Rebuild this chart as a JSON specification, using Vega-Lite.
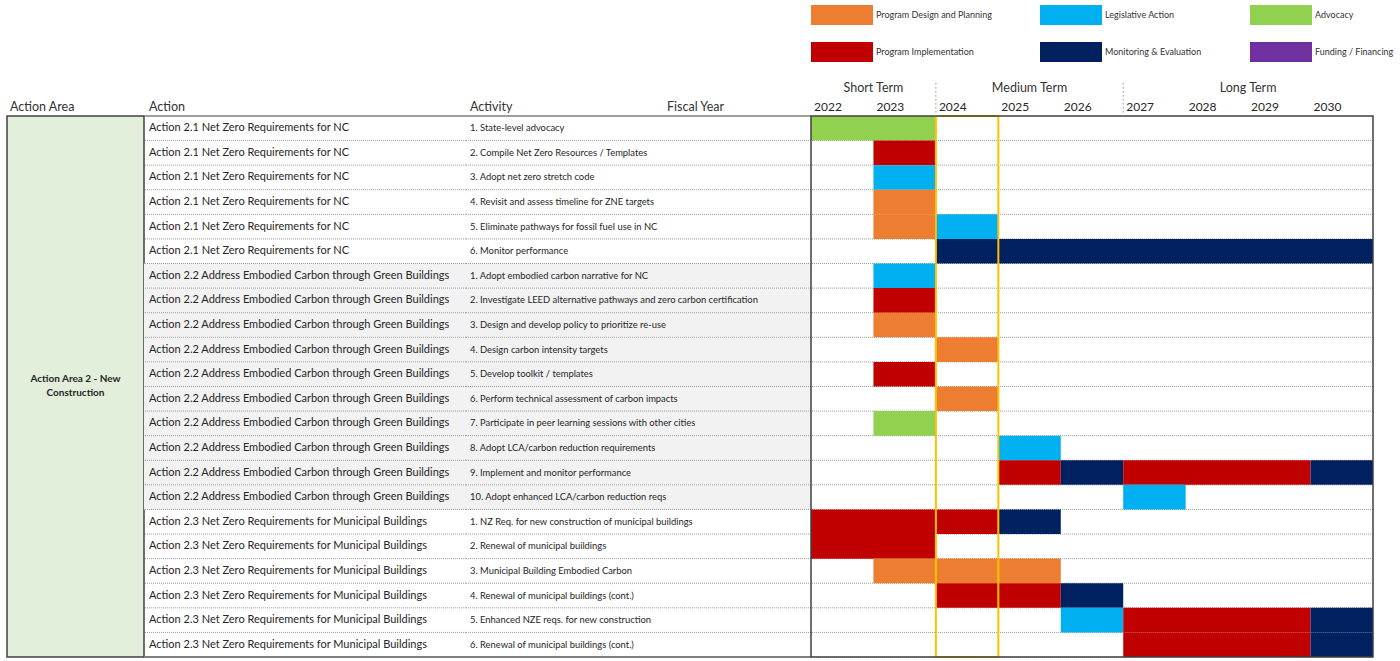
{
  "$schema": "https://vega.github.io/schema/vega-lite/v6.json",
  "padding": {"left": 6, "top": 0, "right": 0, "bottom": 0},
  "spacing": 0,
  "bounds": "flush",
  "config": {"view": {"stroke": null}, "font": "Lato", "text": {"font": "Lato"}},
  "datasets": {
    "rows": [
      {"row": 1, "action": "Action 2.1 Net Zero Requirements for NC", "activity": "1. State-level advocacy"},
      {"row": 2, "action": "Action 2.1 Net Zero Requirements for NC", "activity": "2. Compile Net Zero Resources / Templates"},
      {"row": 3, "action": "Action 2.1 Net Zero Requirements for NC", "activity": "3. Adopt net zero stretch code"},
      {"row": 4, "action": "Action 2.1 Net Zero Requirements for NC", "activity": "4. Revisit and assess timeline for ZNE targets"},
      {"row": 5, "action": "Action 2.1 Net Zero Requirements for NC", "activity": "5. Eliminate pathways for fossil fuel use in NC"},
      {"row": 6, "action": "Action 2.1 Net Zero Requirements for NC", "activity": "6. Monitor performance"},
      {"row": 7, "action": "Action 2.2 Address Embodied Carbon through Green Buildings", "activity": "1. Adopt embodied carbon narrative for NC"},
      {"row": 8, "action": "Action 2.2 Address Embodied Carbon through Green Buildings", "activity": "2. Investigate LEED alternative pathways and zero carbon certification"},
      {"row": 9, "action": "Action 2.2 Address Embodied Carbon through Green Buildings", "activity": "3. Design and develop policy to prioritize re-use"},
      {"row": 10, "action": "Action 2.2 Address Embodied Carbon through Green Buildings", "activity": "4. Design carbon intensity targets"},
      {"row": 11, "action": "Action 2.2 Address Embodied Carbon through Green Buildings", "activity": "5. Develop toolkit / templates"},
      {"row": 12, "action": "Action 2.2 Address Embodied Carbon through Green Buildings", "activity": "6. Perform technical assessment of carbon impacts"},
      {"row": 13, "action": "Action 2.2 Address Embodied Carbon through Green Buildings", "activity": "7. Participate in peer learning sessions with other cities"},
      {"row": 14, "action": "Action 2.2 Address Embodied Carbon through Green Buildings", "activity": "8. Adopt LCA/carbon reduction requirements"},
      {"row": 15, "action": "Action 2.2 Address Embodied Carbon through Green Buildings", "activity": "9. Implement and monitor performance"},
      {"row": 16, "action": "Action 2.2 Address Embodied Carbon through Green Buildings", "activity": "10. Adopt enhanced LCA/carbon reduction reqs"},
      {"row": 17, "action": "Action 2.3 Net Zero Requirements for Municipal Buildings", "activity": "1. NZ Req. for new construction of municipal buildings"},
      {"row": 18, "action": "Action 2.3 Net Zero Requirements for Municipal Buildings", "activity": "2. Renewal of municipal buildings"},
      {"row": 19, "action": "Action 2.3 Net Zero Requirements for Municipal Buildings", "activity": "3. Municipal Building Embodied Carbon"},
      {"row": 20, "action": "Action 2.3 Net Zero Requirements for Municipal Buildings", "activity": "4. Renewal of municipal buildings (cont.)"},
      {"row": 21, "action": "Action 2.3 Net Zero Requirements for Municipal Buildings", "activity": "5. Enhanced NZE reqs. for new construction"},
      {"row": 22, "action": "Action 2.3 Net Zero Requirements for Municipal Buildings", "activity": "6. Renewal of municipal buildings (cont.)"}
    ],
    "bars": [
      {"row": 1, "start": 2022, "end": 2024, "category": "Advocacy"},
      {"row": 2, "start": 2023, "end": 2024, "category": "Program Implementation"},
      {"row": 3, "start": 2023, "end": 2024, "category": "Legislative Action"},
      {"row": 4, "start": 2023, "end": 2024, "category": "Program Design and Planning"},
      {"row": 5, "start": 2023, "end": 2024, "category": "Program Design and Planning"},
      {"row": 5, "start": 2024, "end": 2025, "category": "Legislative Action"},
      {"row": 6, "start": 2024, "end": 2031, "category": "Monitoring & Evaluation"},
      {"row": 7, "start": 2023, "end": 2024, "category": "Legislative Action"},
      {"row": 8, "start": 2023, "end": 2024, "category": "Program Implementation"},
      {"row": 9, "start": 2023, "end": 2024, "category": "Program Design and Planning"},
      {"row": 10, "start": 2024, "end": 2025, "category": "Program Design and Planning"},
      {"row": 11, "start": 2023, "end": 2024, "category": "Program Implementation"},
      {"row": 12, "start": 2024, "end": 2025, "category": "Program Design and Planning"},
      {"row": 13, "start": 2023, "end": 2024, "category": "Advocacy"},
      {"row": 14, "start": 2025, "end": 2026, "category": "Legislative Action"},
      {"row": 15, "start": 2025, "end": 2026, "category": "Program Implementation"},
      {"row": 15, "start": 2026, "end": 2027, "category": "Monitoring & Evaluation"},
      {"row": 15, "start": 2027, "end": 2030, "category": "Program Implementation"},
      {"row": 15, "start": 2030, "end": 2031, "category": "Monitoring & Evaluation"},
      {"row": 16, "start": 2027, "end": 2028, "category": "Legislative Action"},
      {"row": 17, "start": 2022, "end": 2025, "category": "Program Implementation"},
      {"row": 17, "start": 2025, "end": 2026, "category": "Monitoring & Evaluation"},
      {"row": 18, "start": 2022, "end": 2024, "category": "Program Implementation"},
      {"row": 19, "start": 2023, "end": 2026, "category": "Program Design and Planning"},
      {"row": 20, "start": 2024, "end": 2026, "category": "Program Implementation"},
      {"row": 20, "start": 2026, "end": 2027, "category": "Monitoring & Evaluation"},
      {"row": 21, "start": 2026, "end": 2027, "category": "Legislative Action"},
      {"row": 21, "start": 2027, "end": 2030, "category": "Program Implementation"},
      {"row": 21, "start": 2030, "end": 2031, "category": "Monitoring & Evaluation"},
      {"row": 22, "start": 2027, "end": 2030, "category": "Program Implementation"},
      {"row": 22, "start": 2030, "end": 2031, "category": "Monitoring & Evaluation"}
    ],
    "years": [
      {"year": 2022}, {"year": 2023}, {"year": 2024}, {"year": 2025}, {"year": 2026},
      {"year": 2027}, {"year": 2028}, {"year": 2029}, {"year": 2030}
    ],
    "terms": [
      {"term": "Short Term", "mid": 2023, "start": 2022},
      {"term": "Medium Term", "mid": 2025.5, "start": 2024},
      {"term": "Long Term", "mid": 2029, "start": 2027}
    ]
  },
  "hconcat": [
    {
      "width": 137,
      "height": 657,
      "layer": [
        {
          "data": {"values": [{"area": ["Action Area 2 - New", "Construction"]}]},
          "mark": {"type": "rect", "fill": "#e2efda", "stroke": "#404040", "strokeWidth": 1.5},
          "encoding": {
            "x": {"value": 0}, "x2": {"value": "width"},
            "y": {"datum": 0.5, "type": "quantitative", "scale": {"domain": [-4.215, 22.5], "reverse": true, "nice": false, "zero": false}, "axis": null},
            "y2": {"datum": 22.5}
          }
        },
        {
          "data": {"values": [{"area": ["Action Area 2 - New", "Construction"]}]},
          "mark": {"type": "text", "fontWeight": "bold", "fontSize": 10, "align": "center", "baseline": "middle", "lineHeight": 14, "color": "#262626", "dy": -7},
          "encoding": {
            "y": {"datum": 11.5, "type": "quantitative", "scale": {"domain": [-4.215, 22.5], "reverse": true, "nice": false, "zero": false}, "axis": null},
            "text": {"field": "area"}
          }
        },
        {
          "data": {"values": [{"label": "Action Area"}]},
          "mark": {"type": "text", "fontSize": 12.5, "align": "left", "baseline": "middle", "dy": 3, "color": "#333333"},
          "encoding": {
            "x": {"value": 3},
            "y": {"datum": 0, "type": "quantitative", "scale": {"domain": [-4.215, 22.5], "reverse": true, "nice": false, "zero": false}, "axis": null},
            "text": {"field": "label"}
          }
        }
      ]
    },
    {
      "width": 322,
      "height": 657,
      "layer": [
        {
          "data": {"name": "rows"},
          "transform": [{"filter": "indexof(datum.action, 'Action 2.2') == 0"}],
          "mark": {"type": "rect", "fill": "#f2f2f2", "yOffset": -12.3, "y2Offset": 12.3},
          "encoding": {
            "x": {"value": 0}, "x2": {"value": "width"},
            "y": {"field": "row", "type": "quantitative", "scale": {"domain": [-4.215, 22.5], "reverse": true, "nice": false, "zero": false}, "axis": null},
            "y2": {"field": "row"}
          }
        },
        {
          "data": {"name": "rows"},
          "mark": {"type": "rule", "stroke": "#9a9a9a", "strokeDash": [1, 1], "strokeWidth": 1, "yOffset": 12.3},
          "encoding": {
            "y": {"field": "row", "type": "quantitative", "scale": {"domain": [-4.215, 22.5], "reverse": true, "nice": false, "zero": false}, "axis": null}
          }
        },
        {
          "data": {"name": "rows"},
          "mark": {"type": "text", "fontSize": 11, "align": "left", "baseline": "middle", "color": "#262626"},
          "encoding": {
            "x": {"value": 5},
            "y": {"field": "row", "type": "quantitative", "scale": {"domain": [-4.215, 22.5], "reverse": true, "nice": false, "zero": false}, "axis": null},
            "text": {"field": "action"}
          }
        },
        {
          "data": {"values": [{"edge": "top"}]},
          "mark": {"type": "rule", "stroke": "#7f7f7f", "strokeWidth": 1.5},
          "encoding": {
            "y": {"datum": 0.5, "type": "quantitative", "scale": {"domain": [-4.215, 22.5], "reverse": true, "nice": false, "zero": false}, "axis": null}
          }
        },
        {
          "data": {"values": [{"edge": "bottom"}]},
          "mark": {"type": "rule", "stroke": "#7f7f7f", "strokeWidth": 2},
          "encoding": {
            "y": {"datum": 22.5, "type": "quantitative", "scale": {"domain": [-4.215, 22.5], "reverse": true, "nice": false, "zero": false}, "axis": null}
          }
        },
        {
          "data": {"values": [{"label": "Action"}]},
          "mark": {"type": "text", "fontSize": 12.5, "align": "left", "baseline": "middle", "dy": 3, "color": "#333333"},
          "encoding": {
            "x": {"value": 5},
            "y": {"datum": 0, "type": "quantitative", "scale": {"domain": [-4.215, 22.5], "reverse": true, "nice": false, "zero": false}, "axis": null},
            "text": {"field": "label"}
          }
        }
      ]
    },
    {
      "width": 345,
      "height": 657,
      "layer": [
        {
          "data": {"name": "rows"},
          "transform": [{"filter": "indexof(datum.action, 'Action 2.2') == 0"}],
          "mark": {"type": "rect", "fill": "#f2f2f2", "yOffset": -12.3, "y2Offset": 12.3},
          "encoding": {
            "x": {"value": 0}, "x2": {"value": "width"},
            "y": {"field": "row", "type": "quantitative", "scale": {"domain": [-4.215, 22.5], "reverse": true, "nice": false, "zero": false}, "axis": null},
            "y2": {"field": "row"}
          }
        },
        {
          "data": {"name": "rows"},
          "mark": {"type": "rule", "stroke": "#9a9a9a", "strokeDash": [1, 1], "strokeWidth": 1, "yOffset": 12.3},
          "encoding": {
            "y": {"field": "row", "type": "quantitative", "scale": {"domain": [-4.215, 22.5], "reverse": true, "nice": false, "zero": false}, "axis": null}
          }
        },
        {
          "data": {"name": "rows"},
          "mark": {"type": "text", "fontSize": 9.4, "align": "left", "baseline": "middle", "color": "#262626"},
          "encoding": {
            "x": {"value": 4},
            "y": {"field": "row", "type": "quantitative", "scale": {"domain": [-4.215, 22.5], "reverse": true, "nice": false, "zero": false}, "axis": null},
            "text": {"field": "activity"}
          }
        },
        {
          "data": {"values": [{"edge": "top"}]},
          "mark": {"type": "rule", "stroke": "#7f7f7f", "strokeWidth": 1.5},
          "encoding": {
            "y": {"datum": 0.5, "type": "quantitative", "scale": {"domain": [-4.215, 22.5], "reverse": true, "nice": false, "zero": false}, "axis": null}
          }
        },
        {
          "data": {"values": [{"edge": "bottom"}]},
          "mark": {"type": "rule", "stroke": "#7f7f7f", "strokeWidth": 2},
          "encoding": {
            "y": {"datum": 22.5, "type": "quantitative", "scale": {"domain": [-4.215, 22.5], "reverse": true, "nice": false, "zero": false}, "axis": null}
          }
        },
        {
          "data": {"values": [{"label": "Activity"}]},
          "mark": {"type": "text", "fontSize": 12.5, "align": "left", "baseline": "middle", "dy": 3, "color": "#333333"},
          "encoding": {
            "x": {"value": 4},
            "y": {"datum": 0, "type": "quantitative", "scale": {"domain": [-4.215, 22.5], "reverse": true, "nice": false, "zero": false}, "axis": null},
            "text": {"field": "label"}
          }
        },
        {
          "data": {"values": [{"label": "Fiscal Year"}]},
          "mark": {"type": "text", "fontSize": 12.5, "align": "left", "baseline": "middle", "dy": 3, "color": "#333333"},
          "encoding": {
            "x": {"value": 201},
            "y": {"datum": 0, "type": "quantitative", "scale": {"domain": [-4.215, 22.5], "reverse": true, "nice": false, "zero": false}, "axis": null},
            "text": {"field": "label"}
          }
        }
      ]
    },
    {
      "width": 562,
      "height": 657,
      "layer": [
        {
          "data": {"name": "rows"},
          "mark": {"type": "rule", "stroke": "#9a9a9a", "strokeDash": [1, 1], "strokeWidth": 1, "yOffset": 12.3},
          "encoding": {
            "y": {"field": "row", "type": "quantitative", "scale": {"domain": [-4.215, 22.5], "reverse": true, "nice": false, "zero": false}, "axis": null}
          }
        },
        {
          "data": {"name": "bars"},
          "mark": {"type": "rect", "yOffset": -12.3, "y2Offset": 12.3},
          "encoding": {
            "x": {"field": "start", "type": "quantitative", "scale": {"domain": [2022, 2031], "nice": false, "zero": false}, "axis": null},
            "x2": {"field": "end"},
            "y": {"field": "row", "type": "quantitative", "scale": {"domain": [-4.215, 22.5], "reverse": true, "nice": false, "zero": false}, "axis": null},
            "y2": {"field": "row"},
            "color": {
              "field": "category", "type": "nominal",
              "scale": {
                "domain": ["Program Design and Planning", "Legislative Action", "Advocacy", "Program Implementation", "Monitoring & Evaluation", "Funding / Financing"],
                "range": ["#ed7d31", "#00b0f0", "#92d050", "#c00000", "#002060", "#7030a0"]
              },
              "legend": {
                "title": null,
                "orient": "none",
                "legendX": 825,
                "legendY": 5,
                "direction": "horizontal",
                "columns": 3,
                "gridAlign": "each",
                "columnPadding": 48,
                "rowPadding": 17,
                "padding": 0,
                "symbolType": "M-3.1,-1H3.1V1H-3.1Z",
                "symbolSize": 400,
                "symbolStrokeWidth": 0,
                "symbolOpacity": 1,
                "labelFontSize": 9,
                "labelOffset": 24,
                "labelColor": "#333333",
                "labelFont": "Lato",
                "labelLimit": 300
              }
            }
          }
        },
        {
          "data": {"values": [{"col": "2024"}]},
          "mark": {"type": "rect", "fill": null, "fillOpacity": 0, "stroke": "#ffc000", "strokeWidth": 2},
          "encoding": {
            "x": {"datum": 2024, "type": "quantitative", "scale": {"domain": [2022, 2031], "nice": false, "zero": false}, "axis": null},
            "x2": {"datum": 2025},
            "y": {"datum": 0.5, "type": "quantitative", "scale": {"domain": [-4.215, 22.5], "reverse": true, "nice": false, "zero": false}, "axis": null},
            "y2": {"datum": 22.5}
          }
        },
        {
          "data": {"values": [{"edge": "frame"}]},
          "mark": {"type": "rect", "fill": null, "fillOpacity": 0, "stroke": "#404040", "strokeWidth": 1.5},
          "encoding": {
            "x": {"value": 0}, "x2": {"value": "width"},
            "y": {"datum": 0.5, "type": "quantitative", "scale": {"domain": [-4.215, 22.5], "reverse": true, "nice": false, "zero": false}, "axis": null},
            "y2": {"datum": 22.5}
          }
        },
        {
          "data": {"name": "years"},
          "mark": {"type": "text", "fontSize": 12, "align": "left", "baseline": "middle", "dx": 3, "dy": 3, "color": "#262626"},
          "encoding": {
            "x": {"field": "year", "type": "quantitative", "scale": {"domain": [2022, 2031], "nice": false, "zero": false}, "axis": null},
            "y": {"datum": 0, "type": "quantitative", "scale": {"domain": [-4.215, 22.5], "reverse": true, "nice": false, "zero": false}, "axis": null},
            "text": {"field": "year", "type": "nominal"}
          }
        },
        {
          "data": {"name": "terms"},
          "mark": {"type": "text", "fontSize": 12.5, "align": "center", "baseline": "middle", "color": "#333333"},
          "encoding": {
            "x": {"field": "mid", "type": "quantitative", "scale": {"domain": [2022, 2031], "nice": false, "zero": false}, "axis": null},
            "y": {"datum": -0.65, "type": "quantitative", "scale": {"domain": [-4.215, 22.5], "reverse": true, "nice": false, "zero": false}, "axis": null},
            "text": {"field": "term"}
          }
        },
        {
          "data": {"name": "terms"},
          "transform": [{"filter": "datum.start > 2022"}],
          "mark": {"type": "rule", "stroke": "#a6a6a6", "strokeDash": [2, 2], "strokeWidth": 1},
          "encoding": {
            "x": {"field": "start", "type": "quantitative", "scale": {"domain": [2022, 2031], "nice": false, "zero": false}, "axis": null},
            "y": {"datum": -0.85, "type": "quantitative", "scale": {"domain": [-4.215, 22.5], "reverse": true, "nice": false, "zero": false}, "axis": null},
            "y2": {"datum": 0.5}
          }
        }
      ]
    }
  ]
}
